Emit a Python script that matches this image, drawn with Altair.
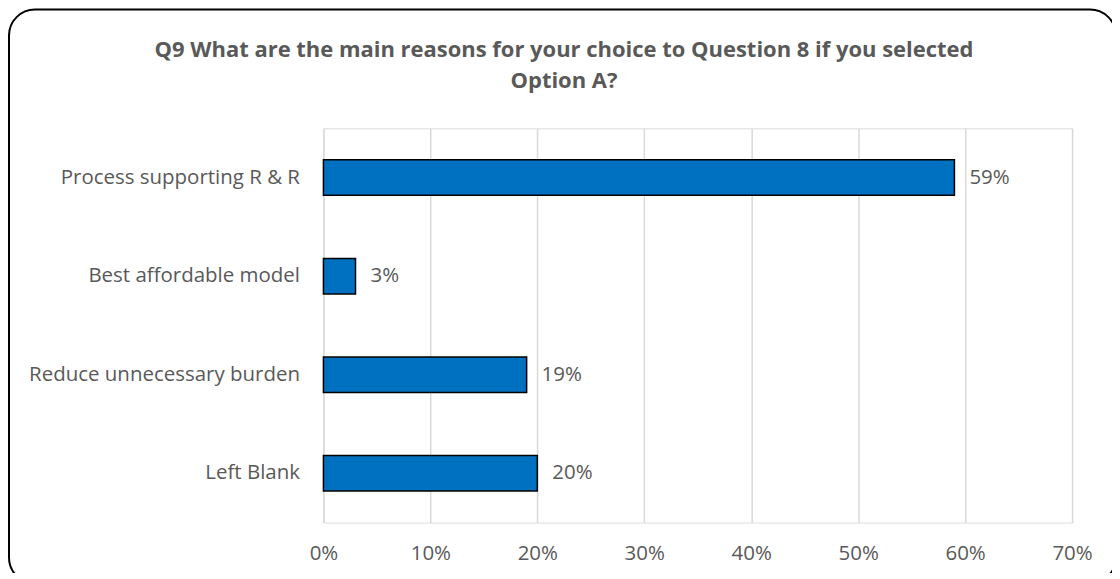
import altair as alt
import pandas as pd

categories = ["Process supporting R & R", "Best affordable model", "Reduce unnecessary burden", "Left Blank"]
values = [0.59, 0.03, 0.19, 0.20]
labels = ["59%", "3%", "19%", "20%"]
title_lines = ["Q9 What are the main reasons for your choice to Question 8 if you selected", "Option A?"]

df = pd.DataFrame({"category": categories, "value": values, "label": labels})

FONT = "Open Sans"
GREY = "#595959"
FS = 20.5

x_enc = alt.X("value:Q", scale=alt.Scale(domain=[0, 0.7]),
              axis=alt.Axis(format=".0%", values=[0, 0.1, 0.2, 0.3, 0.4, 0.5, 0.6, 0.7],
                            title=None, domain=False, ticks=False, labelPadding=21,
                            labelFlush=False,
                            labelFontSize=FS, labelColor=GREY, labelFont=FONT,
                            gridColor="#D9D9D9", gridWidth=1.5))
y_enc = alt.Y("category:N", sort=categories,
              scale=alt.Scale(paddingInner=0.64, paddingOuter=0.32),
              axis=alt.Axis(title=None, domain=False, ticks=False, labelPadding=24,
                            labelLimit=400,
                            labelFontSize=FS, labelColor=GREY, labelFont=FONT, grid=False))

border = alt.Chart(pd.DataFrame({"b": [0]})).mark_rect(
    fill=None, stroke="black", strokeWidth=2, cornerRadius=26
).encode(x=alt.value(-315), x2=alt.value(794), y=alt.value(-119), y2=alt.value(456))

bars = alt.Chart(df).mark_bar(color="#0070C0", stroke="black", strokeWidth=1.5).encode(
    x=x_enc, y=y_enc)

text = alt.Chart(df).mark_text(align="left", dx=15, fontSize=FS, color=GREY, font=FONT).encode(
    x="value:Q", y=alt.Y("category:N", sort=categories), text="label:N")

chart = alt.layer(border, bars, text).properties(
    width=750, height=395,
    padding={"left": 316, "top": 120, "right": 40, "bottom": 50},
    autosize=alt.AutoSizeParams(type="none"),
    title=alt.TitleParams(title_lines, anchor="middle", frame="group", dx=-134, offset=-85,
                          fontSize=22, font=FONT, fontWeight="bold", color=GREY, lineHeight=31),
).configure_view(fill="#F2F2F2", stroke=None).configure(background="white")

chart.save("out.html", embed_options={"renderer": "svg", "actions": False})
